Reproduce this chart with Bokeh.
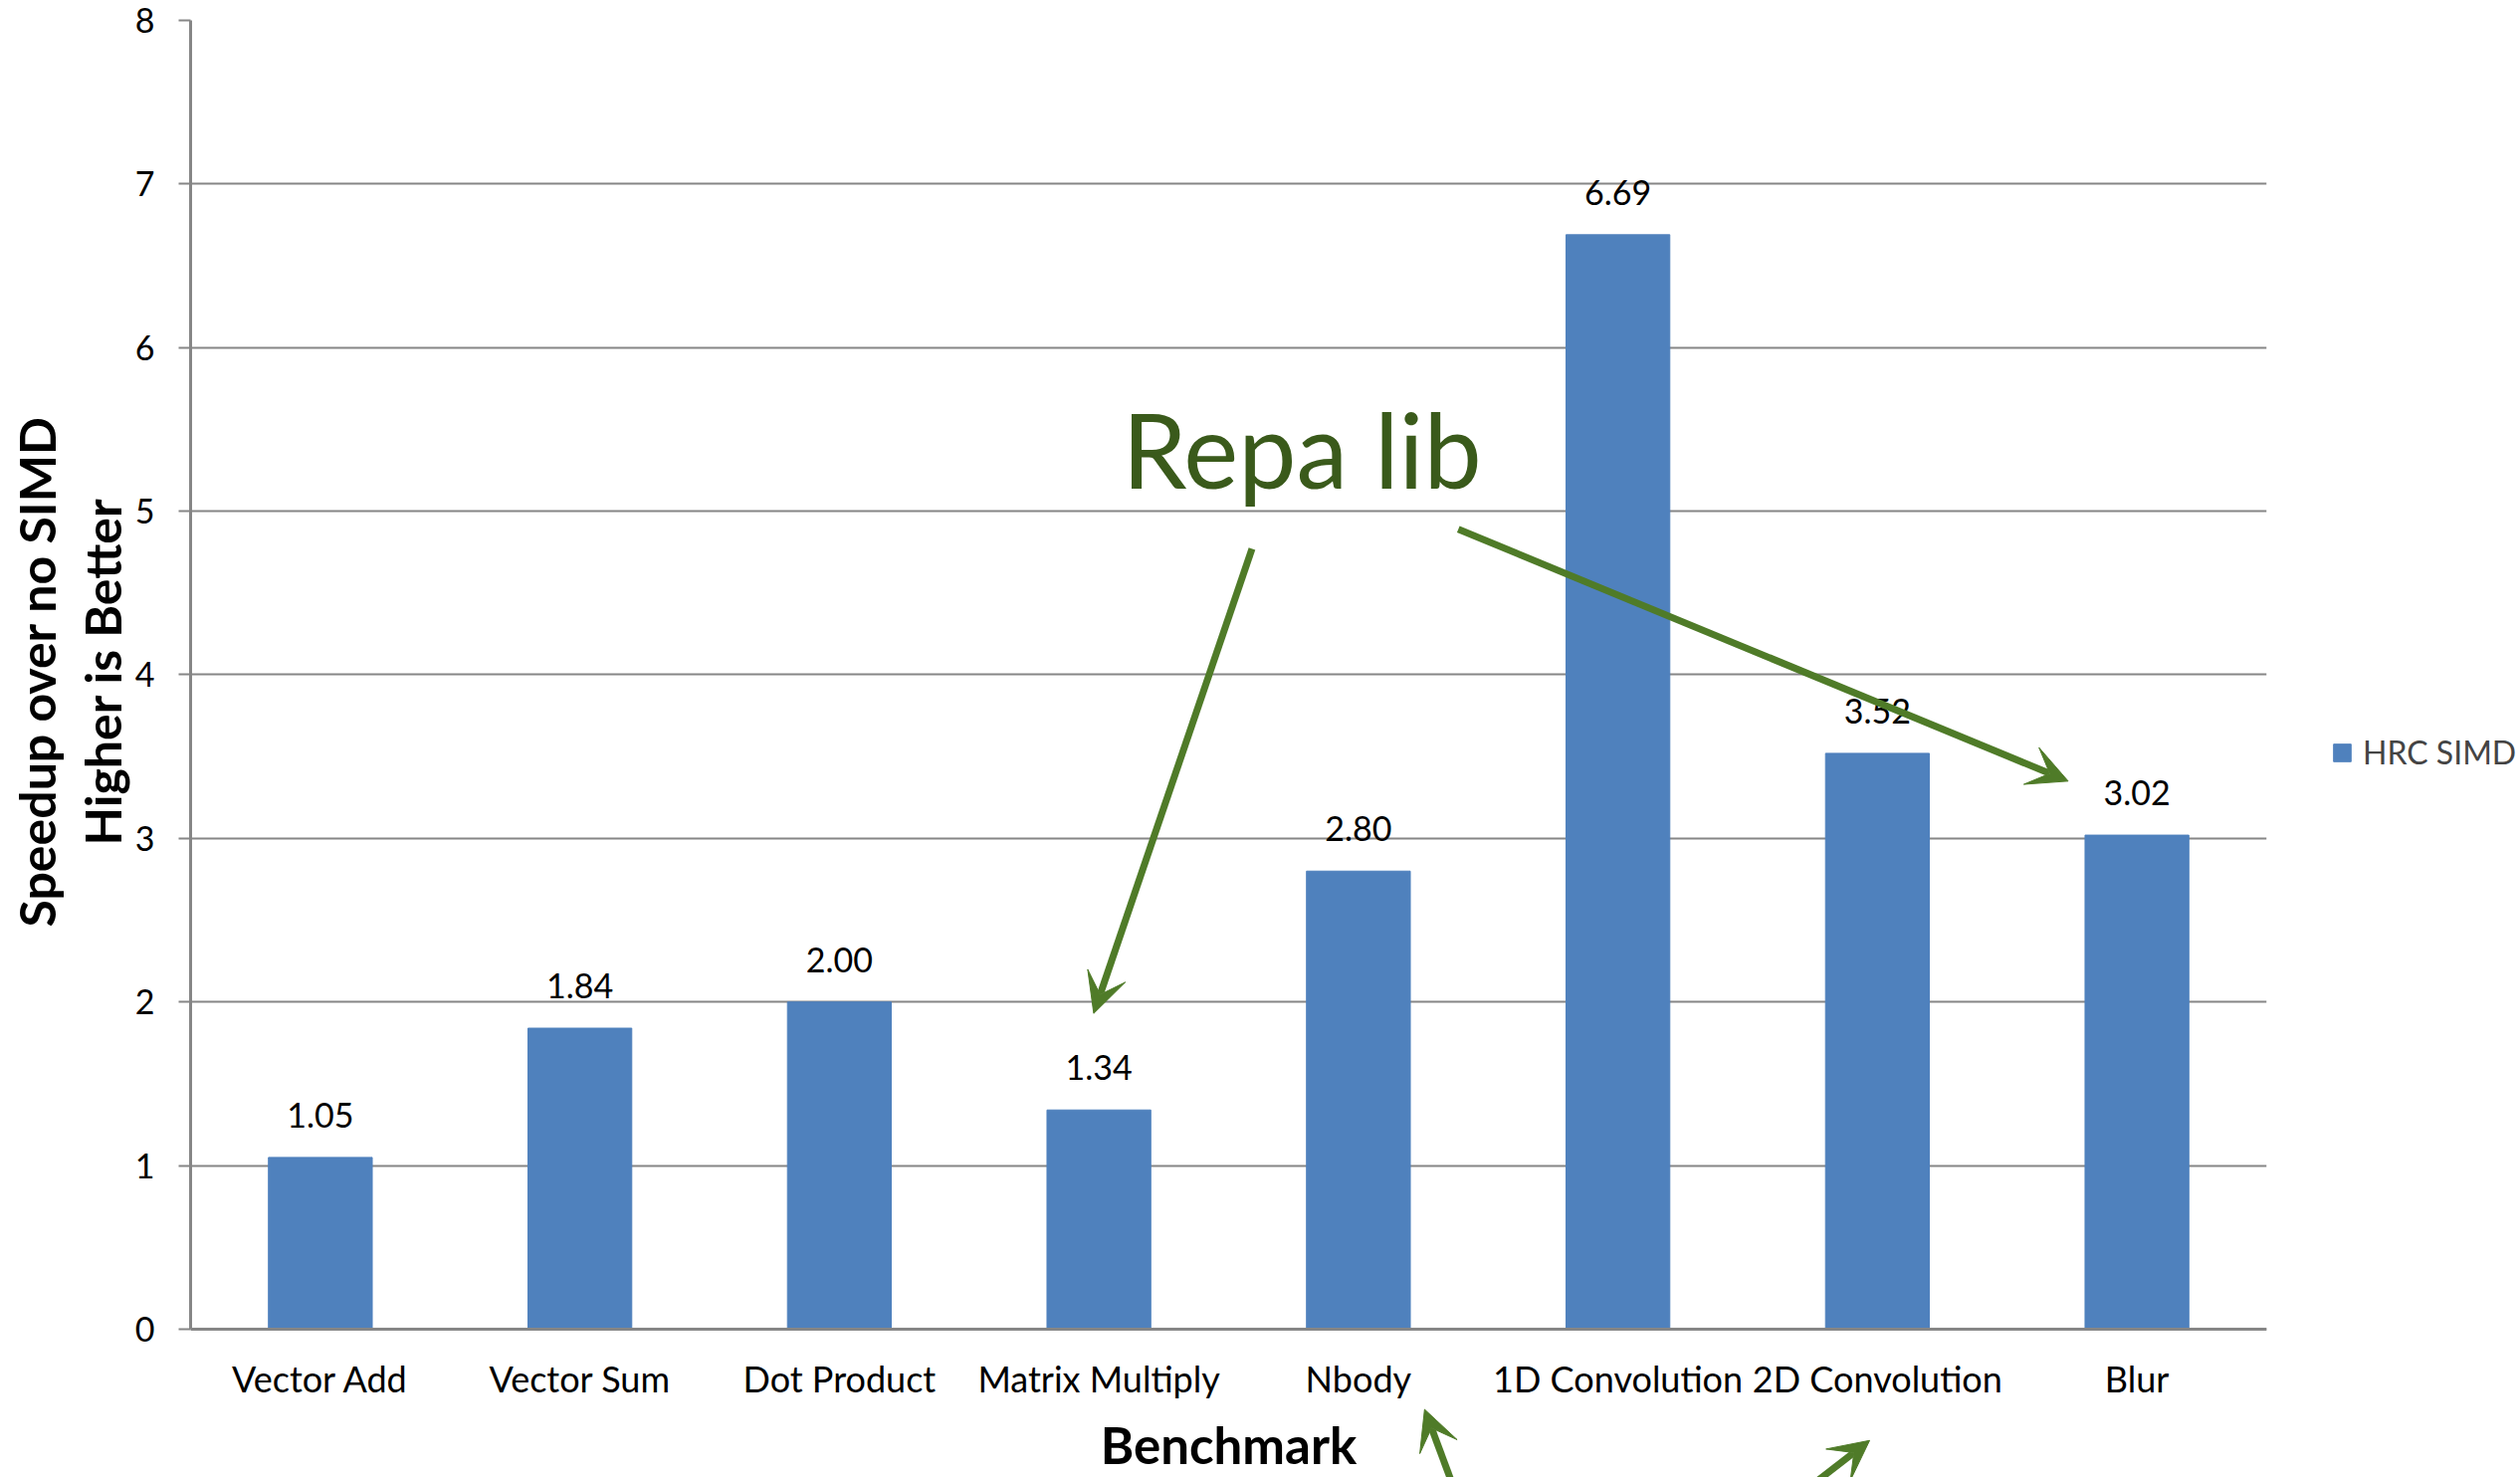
from bokeh.plotting import figure
from bokeh.layouts import row
from bokeh.models import (FactorRange, Range1d, ColumnDataSource, LabelSet, Label,
                          Arrow, VeeHead, Legend, LegendItem, Title)
from bokeh.core.properties import value
from bokeh.embed import file_html
from bokeh.resources import INLINE

# ---- data ----
benchmarks = ["Vector Add", "Vector Sum", "Dot Product", "Matrix Multiply",
              "Nbody", "1D Convolution", "2D Convolution", "Blur"]
hrc_simd = [1.05, 1.84, 2.00, 1.34, 2.80, 6.69, 3.52, 3.02]
series_name = "HRC SIMD"
y_ticks = [0, 1, 2, 3, 4, 5, 6, 7, 8]
y_min, y_max = 0, 8
y_title_lines = ["Speedup over no SIMD", "Higher is Better"]
x_title = "Benchmark"

FONT = "Lato"
GRID = "#868686"
BAR = "#4F81BD"
ARROW = "#4F7B28"
NOTE = "#3A5A1B"

# the plot area runs to the bottom of the page so the arrows under the axis show;
# the category axis is pinned at y = 0
BELOW_AXIS = 0.9065

src = ColumnDataSource(dict(x=benchmarks, top=hrc_simd,
                            lab=["%.2f" % v for v in hrc_simd]))

xr = FactorRange(factors=benchmarks)
yr = Range1d(y_min - BELOW_AXIS, y_max)

p = figure(x_range=xr, y_range=yr,
           width=2292, height=1484, output_backend="svg", toolbar_location=None,
           min_border_left=190, min_border_right=15, min_border_top=20,
           min_border_bottom=0, background_fill_color="white",
           border_fill_color="white", outline_line_color=None)

r = p.vbar(x="x", top="top", width=0.4, source=src, fill_color=BAR, line_color=BAR)

p.add_layout(LabelSet(x="x", y="top", text="lab", source=src, y_offset=30,
                      text_align="center", text_baseline="bottom",
                      text_font=value(FONT), text_font_size="34px",
                      text_color="black"))

# axes
p.yaxis.ticker = y_ticks
p.yaxis.bounds = (y_min, y_max)
p.yaxis.axis_line_color = GRID
p.yaxis.axis_line_width = 3
p.yaxis.major_tick_line_color = GRID
p.yaxis.major_tick_line_width = 2
p.yaxis.major_tick_out = 12
p.yaxis.major_tick_in = 0
p.yaxis.minor_tick_line_color = None
p.yaxis.major_label_text_font = FONT
p.yaxis.major_label_text_font_size = "34px"
p.yaxis.major_label_text_color = "black"
p.yaxis.major_label_standoff = 24

# y title: two rotated lines centred on the 0..8 span (offset from the page bottom)
offsets = [553, 635]
for line, off, so in reversed(list(zip(y_title_lines, offsets, [8, 0]))):
    p.add_layout(Title(text=line, align="left", offset=off, standoff=so,
                       text_font=FONT, text_font_style="bold",
                       text_font_size="50px", text_color="black"), "left")

p.xaxis.fixed_location = y_min
p.xaxis.axis_line_color = GRID
p.xaxis.axis_line_width = 3
p.xaxis.major_tick_line_color = None
p.xaxis.minor_tick_line_color = None
p.xaxis.major_label_text_font = FONT
p.xaxis.major_label_text_font_size = "36px"
p.xaxis.major_label_text_color = "black"
p.xaxis.major_label_standoff = 22
p.xaxis.axis_label = x_title
p.xaxis.axis_label_text_font = FONT
p.xaxis.axis_label_text_font_style = "bold"
p.xaxis.axis_label_text_font_size = "51px"
p.xaxis.axis_label_text_color = "black"
p.xaxis.axis_label_standoff = 10

p.xgrid.grid_line_color = None
p.ygrid.grid_line_color = GRID
p.ygrid.grid_line_width = 2

# annotation text
p.add_layout(Label(x=3.59, y=5.385, text="Repa lib", text_font=FONT,
                   text_font_size="104px", text_color=NOTE,
                   text_baseline="alphabetic"))

# arrows
arrows = [((4.09, 4.77), (3.48, 1.93)),
          ((4.885, 4.89), (7.235, 3.35)),
          ((4.87, -0.98), (4.755, -0.49)),
          ((6.25, -0.95), (6.47, -0.68))]
for (xs, ys), (xe, ye) in arrows:
    p.add_layout(Arrow(x_start=xs, y_start=ys, x_end=xe, y_end=ye,
                       line_color=ARROW, line_width=7,
                       end=VeeHead(size=40, fill_color=ARROW, line_color=ARROW)))

# legend panel on the right (same ranges; hidden copy of the bars feeds the legend)
p2 = figure(width=240, height=1484, x_range=xr, y_range=yr,
            output_backend="svg", toolbar_location=None, min_border_left=0,
            min_border_right=0, min_border_top=20, min_border_bottom=0,
            outline_line_color=None, background_fill_color="white",
            border_fill_color="white")
p2.axis.visible = False
p2.grid.visible = False
r2 = p2.vbar(x="x", top="top", width=0.4, source=src, fill_color=BAR,
             line_color=BAR, visible=False)
leg = Legend(items=[LegendItem(label=series_name, renderers=[r2])],
             location=(50, 709), padding=0, margin=0, spacing=0,
             border_line_color=None, background_fill_alpha=0,
             glyph_width=22, glyph_height=22, label_standoff=10,
             label_text_font=FONT, label_text_font_size="32px")
p2.add_layout(leg)

layout = row(p, p2, spacing=0)
open("out.html", "w").write(file_html(layout, INLINE))
